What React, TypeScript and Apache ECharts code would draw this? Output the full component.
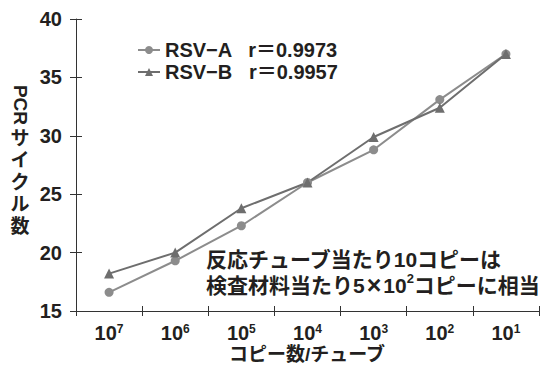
import React, { useEffect, useRef } from "react";
import * as echarts from "echarts";

const categories = ["7", "6", "5", "4", "3", "2", "1"];
const rsvA = [16.6, 19.3, 22.3, 26.0, 28.8, 33.1, 37.0];
const rsvB = [18.2, 20.0, 23.8, 26.0, 29.9, 32.4, 37.0];
const legendTexts: Record<string, string> = {
  "RSV-A": "RSV−A   r＝0.9973",
  "RSV-B": "RSV−B   r＝0.9957",
};
const yTicks = { min: 15, max: 40, interval: 5 };
const xTitle = "コピー数/チューブ";

const FONT = "'Liberation Sans', 'Noto Sans CJK JP', sans-serif";
const TXT = "#231f20";

export default function App() {
  const ref = useRef<HTMLDivElement>(null);
  useEffect(() => {
    if (!ref.current) return;
    const chart = echarts.init(ref.current, undefined, { renderer: "svg" });
    const axisLine = { lineStyle: { color: "#333", width: 1 } };
    chart.setOption({
      animation: false,
      textStyle: { fontFamily: FONT },
      grid: { left: 76, right: 10, top: 19, bottom: 54, containLabel: false, outerBoundsMode: "none" },
      legend: {
        left: 132,
        top: 35,
        orient: "vertical",
        itemGap: 2,
        itemWidth: 22,
        itemHeight: 10,
        data: ["RSV-A", "RSV-B"],
        formatter: (n: string) => legendTexts[n],
        textStyle: { fontSize: 20, fontWeight: "bold", color: TXT, fontFamily: FONT },
      },
      xAxis: [
        {
          type: "category",
          data: categories,
          boundaryGap: true,
          axisLine,
          axisTick: { show: true, length: 5, lineStyle: { color: "#333" } },
          axisLabel: {
            interval: 0,
            margin: 12,
            formatter: (v: string) => `{b|10}{s|${v}}`,
            rich: {
              b: { fontSize: 20, fontWeight: "bold", color: TXT, fontFamily: FONT, lineHeight: 19 },
              s: { fontSize: 12, fontWeight: "bold", color: TXT, fontFamily: FONT, verticalAlign: "top", lineHeight: 11 },
            },
          },
        },
        {
          type: "category",
          data: categories,
          position: "bottom",
          boundaryGap: true,
          axisLine: { show: false },
          axisTick: { show: true, inside: true, length: 5, lineStyle: { color: "#333" } },
          axisLabel: { show: false },
        },
      ],
      yAxis: [
        {
          type: "value",
          min: yTicks.min,
          max: yTicks.max,
          interval: yTicks.interval,
          axisLine: { show: true, ...axisLine },
          axisTick: { show: true, length: 6, lineStyle: { color: "#333" } },
          splitLine: { show: false },
          axisLabel: { margin: 14, fontSize: 20, fontWeight: "bold", color: TXT, fontFamily: FONT },
        },
        {
          type: "value",
          position: "left",
          min: yTicks.min,
          max: yTicks.max,
          interval: yTicks.interval,
          axisLine: { show: false },
          axisTick: { show: true, inside: true, length: 6, lineStyle: { color: "#333" } },
          splitLine: { show: false },
          axisLabel: { show: false },
        },
      ],
      series: [
        {
          name: "RSV-A",
          type: "line",
          data: rsvA,
          symbol: "circle",
          symbolSize: 9,
          lineStyle: { color: "#8c8c8c", width: 2 },
          itemStyle: { color: "#8c8c8c" },
        },
        {
          name: "RSV-B",
          type: "line",
          data: rsvB,
          symbol: "triangle",
          symbolSize: 10,
          lineStyle: { color: "#6e6e6e", width: 2 },
          itemStyle: { color: "#6e6e6e" },
        },
      ],
      graphic: [
        {
          type: "text",
          x: 307,
          y: 354,
          style: {
            text: xTitle,
            fontSize: 19,
            lineHeight: 19,
            fontWeight: "bold",
            fill: TXT,
            fontFamily: FONT,
            align: "center",
            verticalAlign: "middle",
          },
        },
        {
          type: "group",
          x: 20,
          y: 105,
          rotation: -Math.PI / 2,
          children: [
            {
              type: "text",
              x: 0,
              y: 0,
              style: {
                text: "PCR",
                fontSize: 19,
                fontWeight: "bold",
                fill: TXT,
                fontFamily: FONT,
                align: "center",
                verticalAlign: "middle",
              },
            },
          ],
        },
        {
          type: "text",
          x: 20,
          y: 127,
          style: {
            text: "サ\nイ\nク\nル\n数",
            fontSize: 19,
            lineHeight: 22,
            fontWeight: "bold",
            fill: TXT,
            fontFamily: FONT,
            align: "center",
            verticalAlign: "top",
          },
        },
        {
          type: "text",
          x: 206,
          y: 246,
          style: {
            text: "{a|反応チューブ当たり10コピーは}\n{a|検査材料当たり5}{x|×}{a|10}{s|2}{a|コピーに相当}",
            rich: {
              a: { fontSize: 21, fontWeight: "bold", fill: TXT, fontFamily: FONT, lineHeight: 26 },
              x: { fontSize: 25, fontWeight: "bold", fill: TXT, fontFamily: FONT, lineHeight: 26, padding: [0, 2] },
              s: { fontSize: 13, fontWeight: "bold", fill: TXT, fontFamily: FONT, verticalAlign: "top", lineHeight: 16 },
            },
          },
        },
      ],
    });
    return () => chart.dispose();
  }, []);
  return <div ref={ref} style={{ width: 549, height: 365, position: "absolute", left: 0, top: 0 }} />;
}
